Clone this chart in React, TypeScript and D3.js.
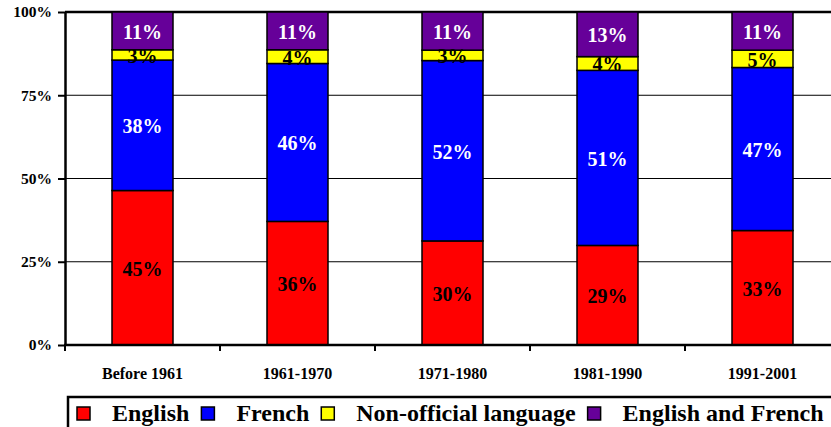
import React, { useRef, useEffect } from "react";
import * as d3 from "d3";

// mother tongue share by period of immigration
const periods = ["Before 1961", "1961-1970", "1971-1980", "1981-1990", "1991-2001"];
const english = [45, 36, 30, 29, 33];
const french = [38, 46, 52, 51, 47];
const nonOfficial = [3, 4, 3, 4, 5];
const englishFrench = [11, 11, 11, 13, 11];
const seriesNames = ["English", "French", "Non-official language", "English and French"];
const seriesColors = ["#ff0000", "#0000ff", "#ffff00", "#660099"];
const labelColors = ["#000", "#fff", "#000", "#fff"];
const yTicks = [0, 0.25, 0.5, 0.75, 1];

const W = 831;
const H = 427;
const FONT = "'Liberation Serif', 'Times New Roman', serif";

const App = () => {
  const svgRef = useRef(null);

  useEffect(() => {
    const svg = d3.select(svgRef.current);
    svg.selectAll("*").remove();

    const rows = periods.map((p, i) => ({
      period: p,
      English: english[i],
      French: french[i],
      "Non-official language": nonOfficial[i],
      "English and French": englishFrench[i]
    }));
    const stacked = d3.stack().keys(seriesNames).offset(d3.stackOffsetExpand)(rows);

    const left = 65, top = 12, bottom = 345;
    const x = d3.scaleBand().domain(periods).range([left, 840]);
    const y = d3.scaleLinear().domain([0, 1]).range([bottom, top]);
    const barW = x.bandwidth() * 61 / 155;

    // gridlines
    svg.append("g")
      .selectAll("line")
      .data(yTicks.filter(t => t > 0 && t < 1))
      .join("line")
      .attr("x1", left).attr("x2", W)
      .attr("y1", d => y(d)).attr("y2", d => y(d))
      .attr("stroke", "#000").attr("stroke-width", 1);

    // plot area top border
    svg.append("line")
      .attr("x1", left).attr("x2", W)
      .attr("y1", y(1)).attr("y2", y(1))
      .attr("stroke", "#000").attr("stroke-width", 2.5);

    // bars
    const layers = svg.append("g").selectAll("g")
      .data(stacked)
      .join("g")
      .attr("fill", (d, i) => seriesColors[i]);

    layers.selectAll("rect")
      .data(d => d)
      .join("rect")
      .attr("x", d => x(d.data.period) + (x.bandwidth() - barW) / 2)
      .attr("width", barW)
      .attr("y", d => y(d[1]))
      .attr("height", d => y(d[0]) - y(d[1]))
      .attr("stroke", "#000")
      .attr("stroke-width", 1.5);

    // value labels
    stacked.forEach((s, si) => {
      svg.append("g")
        .selectAll("text")
        .data(s)
        .join("text")
        .attr("x", d => x(d.data.period) + x.bandwidth() / 2)
        .attr("y", d => (y(d[0]) + y(d[1])) / 2)
        .attr("dy", "0.4em")
        .attr("text-anchor", "middle")
        .attr("font-family", FONT)
        .attr("font-weight", "bold")
        .attr("font-size", 20)
        .attr("fill", labelColors[si])
        .text(d => d.data[s.key] + "%");
    });

    // y axis
    const yAxis = d3.axisLeft(y)
      .tickValues(yTicks)
      .tickFormat(d3.format(".0%"))
      .tickSize(7)
      .tickSizeOuter(0)
      .tickPadding(6);
    const gy = svg.append("g").attr("transform", `translate(${left},0)`).call(yAxis);
    gy.select(".domain").attr("stroke-width", 2.5);
    gy.selectAll(".tick line").attr("stroke-width", 2);
    gy.selectAll("text")
      .attr("font-family", FONT)
      .attr("font-weight", "bold")
      .attr("font-size", 15.5)
      .attr("fill", "#000");

    // x axis
    svg.append("line")
      .attr("x1", left - 1).attr("x2", W)
      .attr("y1", bottom).attr("y2", bottom)
      .attr("stroke", "#000").attr("stroke-width", 2.5);
    svg.append("g")
      .selectAll("line")
      .data(periods)
      .join("line")
      .attr("x1", d => x(d)).attr("x2", d => x(d))
      .attr("y1", bottom).attr("y2", bottom + 6)
      .attr("stroke", "#000").attr("stroke-width", 2);
    svg.append("g")
      .selectAll("text")
      .data(periods)
      .join("text")
      .attr("x", d => x(d) + x.bandwidth() / 2)
      .attr("y", 379)
      .attr("text-anchor", "middle")
      .attr("font-family", FONT)
      .attr("font-weight", "bold")
      .attr("font-size", 16)
      .text(d => d);

    // legend
    svg.append("rect")
      .attr("x", 68).attr("y", 397)
      .attr("width", 800).attr("height", 50)
      .attr("fill", "#fff")
      .attr("stroke", "#000").attr("stroke-width", 2.5);
    let lx = 77;
    seriesNames.forEach((name, i) => {
      svg.append("rect")
        .attr("x", lx).attr("y", 407)
        .attr("width", 13).attr("height", 13)
        .attr("fill", seriesColors[i])
        .attr("stroke", "#000").attr("stroke-width", 1.5);
      const t = svg.append("text")
        .attr("x", lx + 35).attr("y", 421)
        .attr("font-family", FONT)
        .attr("font-weight", "bold")
        .attr("font-size", 24)
        .text(name);
      lx += 35 + t.node().getComputedTextLength() + 12;
    });
  }, []);

  return (
    <svg
      ref={svgRef}
      width={W}
      height={H}
      style={{ position: "absolute", left: 0, top: 0, background: "#fff" }}
    />
  );
};

export default App;
